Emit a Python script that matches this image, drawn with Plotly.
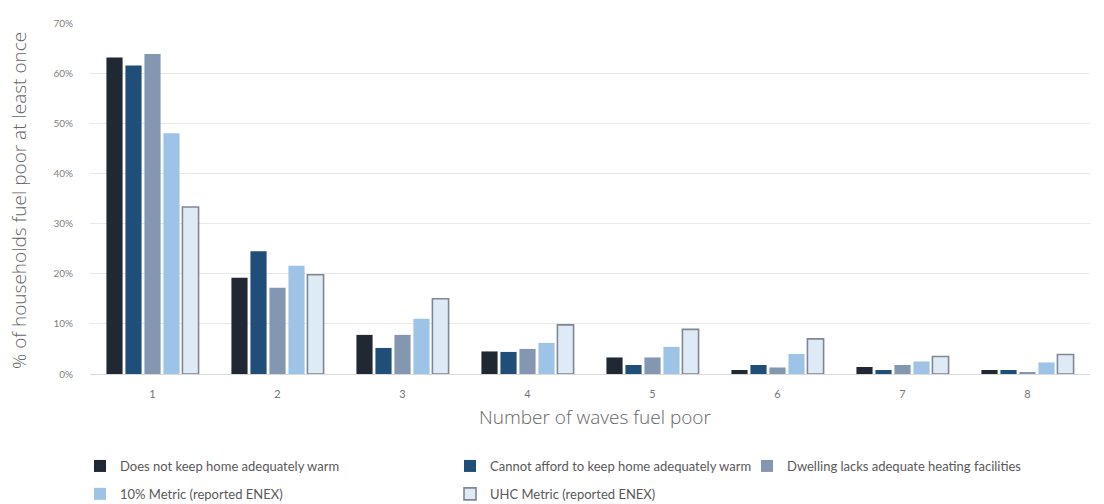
import plotly.graph_objects as go

categories = ["1", "2", "3", "4", "5", "6", "7", "8"]
series_names = [
    "Does not keep home adequately warm",
    "Cannot afford to keep home adequately warm",
    "Dwelling lacks adequate heating facilities",
    "10% Metric (reported ENEX)",
    "UHC Metric (reported ENEX)",
]
not_warm = [63.1, 19.2, 7.8, 4.5, 3.3, 0.8, 1.4, 0.8]
cannot_afford = [61.5, 24.5, 5.2, 4.4, 1.8, 1.8, 0.8, 0.8]
lacks_heating = [63.8, 17.2, 7.8, 5.0, 3.3, 1.3, 1.8, 0.4]
metric_10 = [48.0, 21.6, 11.0, 6.2, 5.4, 4.0, 2.5, 2.3]
metric_uhc = [33.3, 19.8, 15.0, 9.8, 8.9, 7.0, 3.5, 3.9]
y_ticks = [0, 10, 20, 30, 40, 50, 60, 70]
y_tick_labels = ["0%", "10%", "20%", "30%", "40%", "50%", "60%", "70%"]

values = [not_warm, cannot_afford, lacks_heating, metric_10, metric_uhc]
fills = ["#1f2833", "#1f4e79", "#8497b0", "#9dc3e6", "#deebf7"]
lines = ["#1f2833", "#1f4e79", "#8497b0", "#9dc3e6", "#7f8794"]
line_w = [0, 0, 0, 0, 1.6]
legends = ["legend", "legend2", "legend3", "legend", "legend2"]

fig = go.Figure()
for i, (name, vals) in enumerate(zip(series_names, values)):
    fig.add_trace(go.Bar(
        x=categories, y=vals, name=name,
        marker=dict(color=fills[i], line=dict(color=lines[i], width=line_w[i])),
        legend=legends[i], legendgroup="g%d" % i,
        hoverinfo="skip",
    ))

leg_font = dict(family="Lato, sans-serif", size=13, color="#595959")
common = dict(xref="container", yref="container", yanchor="top", xanchor="left",
              orientation="v", font=leg_font, bgcolor="rgba(0,0,0,0)",
              tracegroupgap=8, itemwidth=30, traceorder="grouped")
top_y = 1 - 451 / 504

title_font = dict(family="Open Sans, sans-serif", size=19, color="#666666", weight=300)

fig.update_layout(
    width=1104, height=504,
    margin=dict(l=90, r=14, t=23, b=130, autoexpand=False),
    paper_bgcolor="white", plot_bgcolor="white",
    barmode="group", bargap=0.24, bargroupgap=0.15,
    font=dict(family="Lato, sans-serif", color="#595959"),
    xaxis=dict(
        type="category", showgrid=False, showline=True, linecolor="#d9d9d9", linewidth=1,
        tickfont=dict(size=11, color="#767676"), automargin=False,
        ticks="outside", ticklen=10, tickcolor="rgba(0,0,0,0)",
    ),
    yaxis=dict(
        range=[0, 70], tickvals=y_ticks, ticktext=y_tick_labels,
        showgrid=True, gridcolor="#e8e8e8", gridwidth=1, zeroline=False,
        tickfont=dict(size=10, color="#7f7f7f"), automargin=False,
        ticks="outside", ticklen=14, tickcolor="rgba(0,0,0,0)",
    ),
    annotations=[
        dict(text="% of households fuel poor at least once", xref="paper", yref="paper",
             x=-(90 - 19) / 1001, y=0.5 + (374 - 201 - 175.5) / 351, xanchor="center",
             yanchor="middle", textangle=-90, showarrow=False, font=title_font),
        dict(text="Number of waves fuel poor", xref="paper", yref="paper",
             x=(596 - 90) / 1001, y=(374 - 417) / 351, xanchor="center",
             yanchor="middle", showarrow=False, font=title_font),
    ],
    legend=dict(x=80 / 1104, y=top_y, **common),
    legend2=dict(x=450 / 1104, y=top_y, **common),
    legend3=dict(x=747 / 1104, y=top_y, **common),
    showlegend=True,
)

fig.write_html("out.html", config={"displayModeBar": False},
               post_script="document.body.style.margin='0';")
